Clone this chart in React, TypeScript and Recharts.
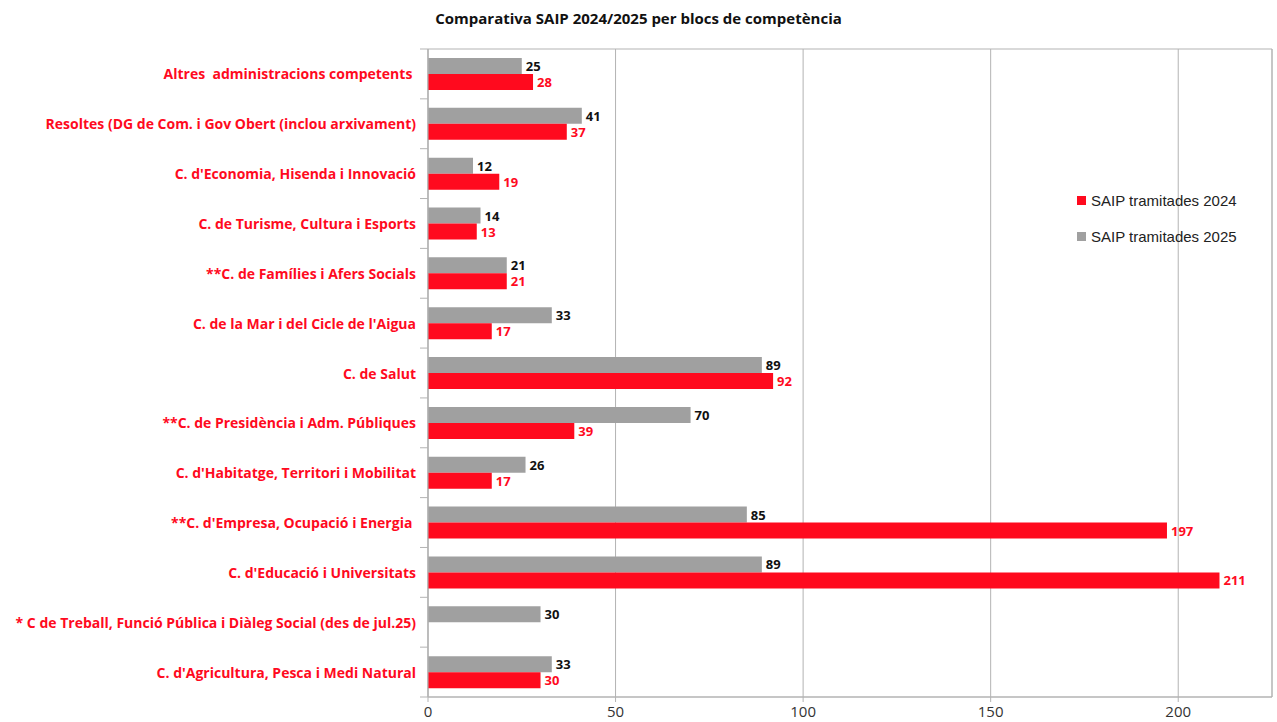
import React from 'react';
import {
  BarChart,
  Bar,
  XAxis,
  YAxis,
  CartesianGrid,
  LabelList,
  ReferenceArea,
} from 'recharts';

const categories = [
  'Altres  administracions competents ',
  'Resoltes (DG de Com. i Gov Obert (inclou arxivament)',
  "C. d'Economia, Hisenda i Innovació",
  'C. de Turisme, Cultura i Esports',
  '**C. de Famílies i Afers Socials',
  "C. de la Mar i del Cicle de l'Aigua",
  'C. de Salut',
  '**C. de Presidència i Adm. Públiques',
  "C. d'Habitatge, Territori i Mobilitat",
  "**C. d'Empresa, Ocupació i Energia ",
  "C. d'Educació i Universitats",
  '* C de Treball, Funció Pública i Diàleg Social (des de jul.25)',
  "C. d'Agricultura, Pesca i Medi Natural",
];

const saip2025 = [25, 41, 12, 14, 21, 33, 89, 70, 26, 85, 89, 30, 33];
const saip2024 = [28, 37, 19, 13, 21, 17, 92, 39, 17, 197, 211, null, 30];

const xTicks = [0, 50, 100, 150, 200];
const xMax = 225;

const legendItems = [
  { label: 'SAIP tramitades 2024', color: '#ff0a1e' },
  { label: 'SAIP tramitades 2025', color: '#a0a0a0' },
];

const RED = '#ff0a1e';
const GRAY = '#a0a0a0';
const GRID = '#b3b3b3';

const W = 1277;
const H = 722;
const TOP = 49;
const BOTTOM_AXIS = 25;
const Y_AXIS_W = 428;
const PLOT_H = H - TOP - BOTTOM_AXIS;

const data = categories.map((name, i) => ({
  name,
  v2025: saip2025[i],
  v2024: saip2024[i],
}));

const font = '"Open Sans", "Noto Sans", sans-serif';

function CategoryTick(props: any) {
  const { y, payload, index } = props;
  const band = PLOT_H / categories.length;
  const top = y - band / 2;
  return (
    <g>
      <line x1={Y_AXIS_W - 8} x2={Y_AXIS_W} y1={top} y2={top} stroke={GRID} />
      {index === categories.length - 1 && (
        <line x1={Y_AXIS_W - 8} x2={Y_AXIS_W} y1={top + band} y2={top + band} stroke={GRID} />
      )}
      <text
        x={Y_AXIS_W - 12}
        y={y}
        textAnchor="end"
        dominantBaseline="central"
        fill={RED}
        fontFamily={font}
        fontWeight={700}
        fontSize={14}
        style={{ whiteSpace: 'pre' }}
      >
        {payload.value}
      </text>
    </g>
  );
}

function valueLabel(color: string) {
  return (props: any) => {
    const { x, y, width, height, value } = props;
    if (value === null || value === undefined) return null;
    return (
      <text
        x={x + width + 4}
        y={y + height / 2}
        dominantBaseline="central"
        fill={color}
        fontFamily={font}
        fontWeight={700}
        fontSize={13}
      >
        {value}
      </text>
    );
  };
}

function LegendBox() {
  return (
    <div
      style={{
        position: 'absolute',
        left: 1077,
        top: 182,
        fontFamily: '"Liberation Sans", Arial, sans-serif',
        fontSize: 15,
        color: '#222',
      }}
    >
      {legendItems.map((it) => (
        <div key={it.label} style={{ display: 'flex', alignItems: 'center', height: 36 }}>
          <span style={{ width: 9, height: 9, background: it.color, marginRight: 5, display: 'inline-block' }} />
          {it.label}
        </div>
      ))}
    </div>
  );
}

export default function App() {
  return (
    <div style={{ position: 'absolute', left: 0, top: 0, width: W, height: H, background: '#fff' }}>
      <div
        style={{
          position: 'absolute',
          top: 8,
          left: 0,
          width: W,
          textAlign: 'center',
          fontFamily: font,
          fontWeight: 700,
          fontSize: 15,
          color: '#111',
        }}
      >
        Comparativa SAIP 2024/2025 per blocs de competència
      </div>
      <BarChart
        width={W}
        height={H}
        data={data}
        layout="vertical"
        margin={{ top: TOP, right: 5, left: 0, bottom: 0 }}
        barCategoryGap="18%"
        barGap={0}
      >
        <CartesianGrid horizontal={false} stroke={GRID} />
        <ReferenceArea x1={0} x2={xMax} fill="none" stroke={GRID} ifOverflow="visible" />
        <XAxis
          type="number"
          domain={[0, xMax]}
          ticks={xTicks}
          height={BOTTOM_AXIS}
          stroke={GRID}
          tickSize={5}
          tick={{ fill: '#333', fontSize: 15, fontFamily: font }}
          tickMargin={4}
          allowDataOverflow
        />
        <YAxis
          type="category"
          dataKey="name"
          width={Y_AXIS_W}
          stroke={GRID}
          tickLine={false}
          tick={<CategoryTick />}
          interval={0}
        />
        <Bar dataKey="v2025" name="SAIP tramitades 2025" fill={GRAY} isAnimationActive={false}>
          <LabelList dataKey="v2025" content={valueLabel('#111')} />
        </Bar>
        <Bar dataKey="v2024" name="SAIP tramitades 2024" fill={RED} isAnimationActive={false}>
          <LabelList dataKey="v2024" content={valueLabel(RED)} />
        </Bar>
      </BarChart>
      <LegendBox />
    </div>
  );
}
